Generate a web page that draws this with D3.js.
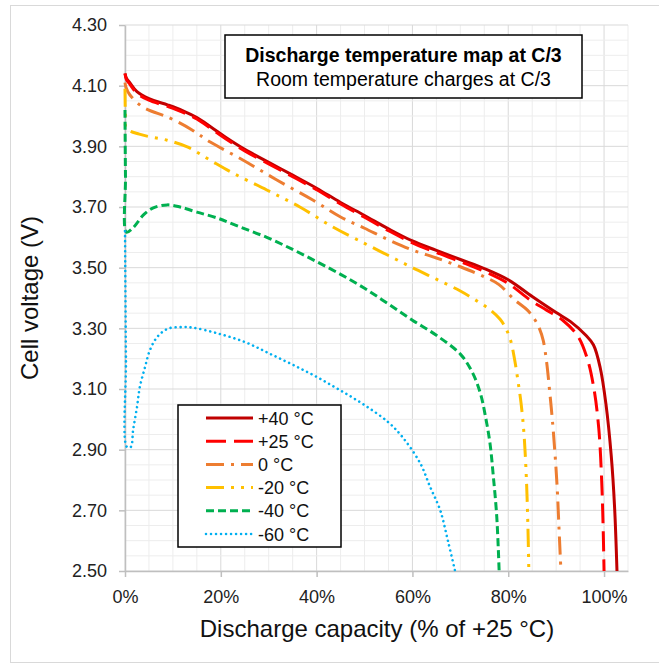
<!DOCTYPE html>
<html>
<head>
<meta charset="utf-8">
<script src="https://cdn.jsdelivr.net/npm/d3@7"></script>
<style>
  body { margin: 0; background: #fff; }
  svg { display: block; font-family: "Liberation Sans", Arial, sans-serif; }
</style>
</head>
<body>
<div class="chart-container"></div>
<script>
// capacity (% of +25 °C) and cell voltage (V)
const temps = ['+40 °C', '+25 °C', '0 °C', '-20 °C', '-40 °C', '-60 °C'];
const colors = ['#C00000', '#FF0000', '#ED7D31', '#FFC000', '#00B050', '#00B0F0'];

const plus40 = [[0,4.14],[0.3,4.125],[1,4.11],[2.5,4.08],[5,4.057],[9,4.036],[12,4.018],[15,3.995],[18,3.963],[21,3.93],[25,3.89],[30,3.847],[35,3.805],[40,3.762],[45,3.715],[50,3.672],[55,3.628],[60,3.588],[65,3.557],[70,3.527],[75,3.497],[80,3.46],[85,3.405],[90,3.352],[93,3.322],[96.2,3.277],[97.8,3.245],[99.2,3.17],[100.4,3.05],[101.5,2.88],[102.2,2.71],[102.7,2.5]];
const plus25 = [[0,4.14],[0.3,4.12],[1,4.105],[2.5,4.075],[5,4.052],[9,4.031],[12,4.013],[15,3.99],[18,3.958],[21,3.925],[25,3.885],[30,3.842],[35,3.8],[40,3.757],[45,3.71],[50,3.666],[55,3.622],[60,3.582],[65,3.55],[70,3.52],[75,3.488],[80,3.448],[84.6,3.393],[88,3.36],[91.5,3.325],[94.5,3.275],[96.5,3.2],[97.9,3.1],[98.9,2.97],[99.5,2.8],[99.8,2.65],[100,2.5]];
const zero = [[0,4.11],[0.2,4.095],[1,4.07],[3.7,4.03],[9.4,3.993],[14,3.954],[17.8,3.914],[24.6,3.855],[31.7,3.789],[39.2,3.723],[45,3.667],[50,3.63],[55,3.592],[60,3.558],[65,3.532],[70,3.503],[75,3.47],[78,3.445],[81.4,3.393],[84,3.36],[85.5,3.33],[86.5,3.30],[87.3,3.26],[88,3.19],[88.6,3.10],[89.2,3.0],[89.7,2.9],[90.2,2.78],[90.6,2.64],[91,2.5]];
const minus20 = [[0,4.09],[0.1,4.0],[0.3,3.96],[3,3.94],[8.8,3.92],[13,3.898],[17.7,3.855],[22.5,3.812],[29.6,3.756],[36.5,3.70],[43.4,3.634],[50,3.58],[55,3.54],[60,3.50],[65,3.462],[70,3.423],[73.7,3.388],[76.3,3.36],[78.3,3.33],[79.5,3.30],[80.5,3.26],[81.3,3.20],[82,3.13],[82.7,3.05],[83.3,2.95],[83.8,2.80],[84.1,2.65],[84.3,2.5]];
const minus40 = [[0,4.02],[0.1,3.8],[0.3,3.617],[1.6,3.63],[2.5,3.647],[3.8,3.673],[5.9,3.697],[8.8,3.707],[11.5,3.70],[15,3.683],[19.2,3.664],[24,3.634],[29.6,3.60],[35,3.56],[40,3.52],[45,3.478],[50,3.432],[55,3.38],[60,3.327],[65,3.277],[70,3.215],[72.5,3.155],[74.2,3.085],[75.3,3.005],[76.2,2.92],[76.9,2.81],[77.6,2.68],[78.1,2.5]];
const minus60 = [[0,3.62],[0.2,3.2],[0.4,2.909],[1.2,2.909],[1.7,2.965],[2.5,3.04],[3.1,3.107],[4.2,3.173],[5.2,3.228],[6.7,3.271],[8.8,3.298],[11.5,3.304],[14.2,3.302],[19.2,3.284],[25,3.255],[30,3.218],[35,3.18],[40,3.14],[45,3.095],[50,3.047],[55,2.99],[58,2.94],[61.6,2.856],[63.7,2.777],[65.8,2.70],[67.4,2.60],[68.9,2.5]];

const capacityTicks = [0, 20, 40, 60, 80, 100];
const voltageTicks = [2.5, 2.7, 2.9, 3.1, 3.3, 3.5, 3.7, 3.9, 4.1, 4.3];

const seriesData = [plus40, plus25, zero, minus20, minus40, minus60];
const dashes = [null, '20,8', '18,7,3,7', '18,7,3,7,3,7', '8,4', '0.01,5'];
const widths = [3, 3, 3, 3, 3, 2.6];

const svg_width = 659;
const svg_height = 665;
const margin = {top: 25, right: 31, bottom: 94, left: 125};

const svg = d3.select('.chart-container').append('svg')
    .attr('width', svg_width)
    .attr('height', svg_height);

// outer chart frame
svg.append('rect')
    .attr('x', 10.5).attr('y', 5.5)
    .attr('width', 660).attr('height', 657)
    .attr('fill', 'none').attr('stroke', '#D9D9D9');

const xScale = d3.scaleLinear().domain([0, 105]).range([margin.left, svg_width - margin.right]);
const yScale = d3.scaleLinear().domain([2.5, 4.3]).range([svg_height - margin.bottom, margin.top]);

// grid: minor then major
const grid = svg.append('g').attr('class', 'grid');
grid.selectAll('.vminor').data(d3.range(0, 105.01, 5)).enter().append('line')
    .attr('x1', d => xScale(d)).attr('x2', d => xScale(d))
    .attr('y1', yScale(2.5)).attr('y2', yScale(4.3))
    .attr('stroke', d => d % 20 === 0 ? '#D9D9D9' : '#EDEDED').attr('stroke-width', 1);
grid.selectAll('.hminor').data(d3.range(0, 37)).enter().append('line')
    .attr('x1', xScale(0)).attr('x2', xScale(105))
    .attr('y1', d => yScale(2.5 + d * 0.05)).attr('y2', d => yScale(2.5 + d * 0.05))
    .attr('stroke', d => d % 4 === 0 ? '#D9D9D9' : '#EDEDED').attr('stroke-width', 1);

// axes
const yAxis = d3.axisLeft(yScale).tickValues(voltageTicks).tickFormat(d3.format('.2f'))
    .tickSizeInner(6).tickSizeOuter(0).tickPadding(12);
const yAxisDraw = svg.append('g').attr('class', 'y axis')
    .attr('transform', `translate(${margin.left},0)`).call(yAxis);

const xAxis = d3.axisBottom(xScale).tickValues(capacityTicks).tickFormat(d => d + '%')
    .tickSizeInner(6).tickSizeOuter(0).tickPadding(13);
const xAxisDraw = svg.append('g').attr('class', 'x axis')
    .attr('transform', `translate(0,${yScale(2.5)})`).call(xAxis);

[xAxisDraw, yAxisDraw].forEach(a => {
    a.select('.domain').attr('stroke', '#BFBFBF').attr('stroke-width', 1.5);
    a.selectAll('.tick line').attr('stroke', '#BFBFBF').attr('stroke-width', 1.5);
    a.selectAll('text').attr('fill', '#222').style('font-size', '18px')
        .style('font-family', '"Liberation Sans", Arial, sans-serif');
});

// curves
const line = d3.line()
    .x(d => xScale(d[0]))
    .y(d => yScale(d[1]))
    .curve(d3.curveCatmullRom.alpha(0.5));

svg.append('g').attr('class', 'curves').selectAll('path')
    .data(seriesData).enter().append('path')
    .attr('d', line)
    .attr('fill', 'none')
    .attr('stroke', (d, i) => colors[i])
    .attr('stroke-width', (d, i) => widths[i])
    .attr('stroke-dasharray', (d, i) => dashes[i])
    .attr('stroke-linecap', (d, i) => i === 5 ? 'round' : 'butt');

// axis titles
svg.append('text')
    .attr('transform', `translate(38,${(yScale(2.5) + yScale(4.3)) / 2}) rotate(-90)`)
    .attr('text-anchor', 'middle')
    .style('font-size', '24px').attr('fill', '#111')
    .text('Cell voltage (V)');
svg.append('text')
    .attr('x', 377).attr('y', 637)
    .attr('text-anchor', 'middle')
    .style('font-size', '24px').attr('fill', '#111')
    .text('Discharge capacity (% of +25 °C)');

// header box
const header = svg.append('g').attr('class', 'header');
header.append('rect')
    .attr('x', 225).attr('y', 35).attr('width', 357).attr('height', 63)
    .attr('fill', '#fff').attr('stroke', '#000').attr('stroke-width', 1.5);
header.append('text')
    .attr('x', 403.5).attr('y', 62).attr('text-anchor', 'middle')
    .style('font-size', '19.5px').style('font-weight', 'bold').attr('fill', '#000')
    .text('Discharge temperature map at C/3');
header.append('text')
    .attr('x', 403.5).attr('y', 86).attr('text-anchor', 'middle')
    .style('font-size', '19.5px').attr('fill', '#000')
    .text('Room temperature charges at C/3');

// legend
const legend = svg.append('g').attr('class', 'legend');
legend.append('rect')
    .attr('x', 178).attr('y', 405).attr('width', 163).attr('height', 142)
    .attr('fill', '#fff').attr('stroke', '#000').attr('stroke-width', 1.5);
const rows = legend.selectAll('.row').data(temps).enter().append('g')
    .attr('class', 'row')
    .attr('transform', (d, i) => `translate(0,${418 + i * 23.2})`);
rows.append('line')
    .attr('x1', 206).attr('x2', 253)
    .attr('stroke', (d, i) => colors[i])
    .attr('stroke-width', (d, i) => widths[i])
    .attr('stroke-dasharray', (d, i) => dashes[i])
    .attr('stroke-linecap', (d, i) => i === 5 ? 'round' : 'butt');
rows.append('text')
    .attr('x', 258).attr('y', 6.5)
    .style('font-size', '18px').attr('fill', '#111')
    .text(d => d);
</script>
</body>
</html>
